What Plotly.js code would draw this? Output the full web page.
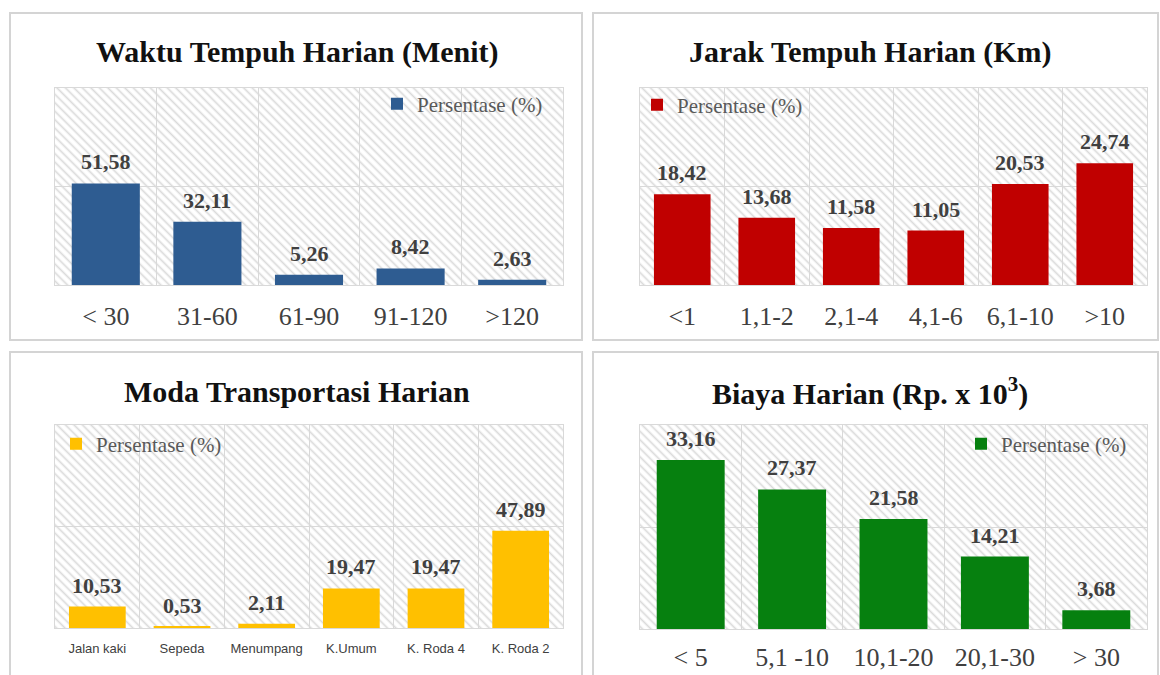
<!DOCTYPE html>
<html>
<head>
<meta charset="utf-8">
<script src="https://cdn.plot.ly/plotly-3.0.1.min.js"></script>
<style>html,body{margin:0;padding:0;background:#fff;}#chart{width:1160px;height:675px;}</style>
</head>
<body>
<div id="chart"></div>
<script>
// ---- data ----
const titles = ['Waktu Tempuh Harian (Menit)', 'Jarak Tempuh Harian (Km)', 'Moda Transportasi Harian', 'Biaya Harian (Rp. x 10<sup>3</sup>)'];
const seriesName = 'Persentase (%)';
const catsWaktu = ['< 30', '31-60', '61-90', '91-120', '>120'];
const valsWaktu = [51.58, 32.11, 5.26, 8.42, 2.63];
const catsJarak = ['<1', '1,1-2', '2,1-4', '4,1-6', '6,1-10', '>10'];
const valsJarak = [18.42, 13.68, 11.58, 11.05, 20.53, 24.74];
const catsModa = ['Jalan kaki', 'Sepeda', 'Menumpang', 'K.Umum', 'K. Roda 4', 'K. Roda 2'];
const valsModa = [10.53, 0.53, 2.11, 19.47, 19.47, 47.89];
const catsBiaya = ['< 5', '5,1 -10', '10,1-20', '20,1-30', '> 30'];
const valsBiaya = [33.16, 27.37, 21.58, 14.21, 3.68];
const yMax = [100, 40, 100, 40];
const yGrid = [50, 20, 50, 20];

// ---- styling / layout ----
const W = 1160, H = 675;
const fx = p => p / W, fy = p => 1 - p / H;
const colors = ['#2E5C91', '#C00000', '#FFC000', '#06800F'];
const boxes = [
  {l: 55, r: 563, t: 88, b: 285},
  {l: 640, r: 1147, t: 88, b: 285},
  {l: 55, r: 563, t: 425, b: 628},
  {l: 640, r: 1147, t: 425, b: 629}
];
const titlePos = [[297, 52], [870, 52], [297, 391], [870, 391]];
const legendTextX = [419, 679, 98, 1003];
const legendY = [104, 105, 444, 444];
const tickStandoff = [8, 8, 8, 5];
const panels = [[10, 13, 582, 340], [593, 13, 1158, 340], [10, 352, 582, 690], [593, 352, 1158, 690]];
const cats = [catsWaktu, catsJarak, catsModa, catsBiaya];
const vals = [valsWaktu, valsJarak, valsModa, valsBiaya];

const fmt = v => v.toFixed(2).replace('.', ',');
const esc = s => s.replace(/</g, '&lt;').replace(/>/g, '&gt;');

function hatch(w, h) {
  const svg = `<svg xmlns="http://www.w3.org/2000/svg" width="${w}" height="${h}" viewBox="0 0 ${w} ${h}">` +
    `<defs><pattern id="p" width="6" height="6" patternUnits="userSpaceOnUse" patternTransform="rotate(-45)">` +
    `<rect width="6" height="6" fill="#ffffff"/><line x1="1.5" y1="0" x2="1.5" y2="6" stroke="#dadada" stroke-width="1.7"/></pattern></defs>` +
    `<rect width="${w}" height="${h}" fill="url(#p)"/></svg>`;
  return 'data:image/svg+xml;charset=utf-8,' + encodeURIComponent(svg);
}

const traces = [];
const layout = {
  width: W, height: H,
  margin: {l: 0, r: 0, t: 0, b: 0},
  paper_bgcolor: '#ffffff',
  plot_bgcolor: 'rgba(0,0,0,0)',
  bargap: 0.33,
  showlegend: true,
  annotations: [],
  shapes: [],
  images: []
};

for (let i = 0; i < 4; i++) {
  const s = i === 0 ? '' : String(i + 1);
  const bx = boxes[i];
  const isModa = i === 2;
  traces.push({
    type: 'bar',
    x: cats[i], y: vals[i],
    name: seriesName,
    xaxis: 'x' + s, yaxis: 'y' + s,
    legend: 'legend' + s,
    marker: {color: colors[i]},
    hoverinfo: 'x+y'
  });
  layout['xaxis' + s] = {
    domain: [fx(bx.l), fx(bx.r)],
    anchor: 'y' + s,
    type: 'category',
    tickson: 'boundaries',
    showgrid: true, gridcolor: '#d9d9d9', gridwidth: 1,
    showline: true, linecolor: '#d9d9d9', linewidth: 1, mirror: true,
    ticks: '',
    tickvals: cats[i],
    ticktext: cats[i].map(esc),
    ticklabelstandoff: tickStandoff[i],
    tickfont: isModa
      ? {family: '"Liberation Sans Narrow", "Liberation Sans", Arial, sans-serif', size: 13, color: '#404040'}
      : {family: '"Liberation Serif", "Times New Roman", serif', size: 26, color: '#404040'},
    fixedrange: true
  };
  layout['yaxis' + s] = {
    domain: [fy(bx.b), fy(bx.t)],
    anchor: 'x' + s,
    range: [0, yMax[i]],
    dtick: yGrid[i],
    showticklabels: false,
    showgrid: true, gridcolor: '#d9d9d9', gridwidth: 1,
    zeroline: false,
    showline: true, linecolor: '#d9d9d9', linewidth: 1, mirror: true,
    ticks: '',
    fixedrange: true
  };
  layout['legend' + s] = {
    x: fx(legendTextX[i] - 42), y: fy(legendY[i]),
    xanchor: 'left', yanchor: 'middle',
    xref: 'paper', yref: 'paper',
    bgcolor: 'rgba(0,0,0,0)',
    font: {family: '"Liberation Serif", "Times New Roman", serif', size: 21, color: '#595959'},
    itemwidth: 30
  };
  layout.images.push({
    source: hatch(bx.r - bx.l, bx.b - bx.t),
    xref: 'paper', yref: 'paper',
    x: fx(bx.l), y: fy(bx.t),
    sizex: (bx.r - bx.l) / W, sizey: (bx.b - bx.t) / H,
    xanchor: 'left', yanchor: 'top',
    sizing: 'stretch', layer: 'below'
  });
  layout.annotations.push({
    xref: 'paper', yref: 'paper',
    x: fx(titlePos[i][0]), y: fy(titlePos[i][1]),
    xanchor: 'center', yanchor: 'middle',
    text: '<b>' + titles[i] + '</b>',
    showarrow: false,
    font: {family: '"Liberation Serif", "Times New Roman", serif', size: 30, color: '#111111'}
  });
  cats[i].forEach((c, j) => {
    layout.annotations.push({
      xref: 'x' + s, yref: 'y' + s,
      x: c, y: vals[i][j],
      xanchor: 'center', yanchor: 'bottom',
      yshift: 7,
      text: '<b>' + fmt(vals[i][j]) + '</b>',
      showarrow: false,
      font: {family: '"Liberation Serif", "Times New Roman", serif', size: 22, color: '#404040'}
    });
  });
  const p = panels[i];
  layout.shapes.push({
    type: 'rect', xref: 'paper', yref: 'paper',
    x0: fx(p[0]), x1: fx(p[2]), y0: fy(p[3]), y1: fy(p[1]),
    line: {color: '#d4d4d4', width: 2}, fillcolor: 'rgba(0,0,0,0)', layer: 'below'
  });
}

Plotly.newPlot('chart', traces, layout, {displayModeBar: false, responsive: false, staticPlot: false});
</script>
</body>
</html>
